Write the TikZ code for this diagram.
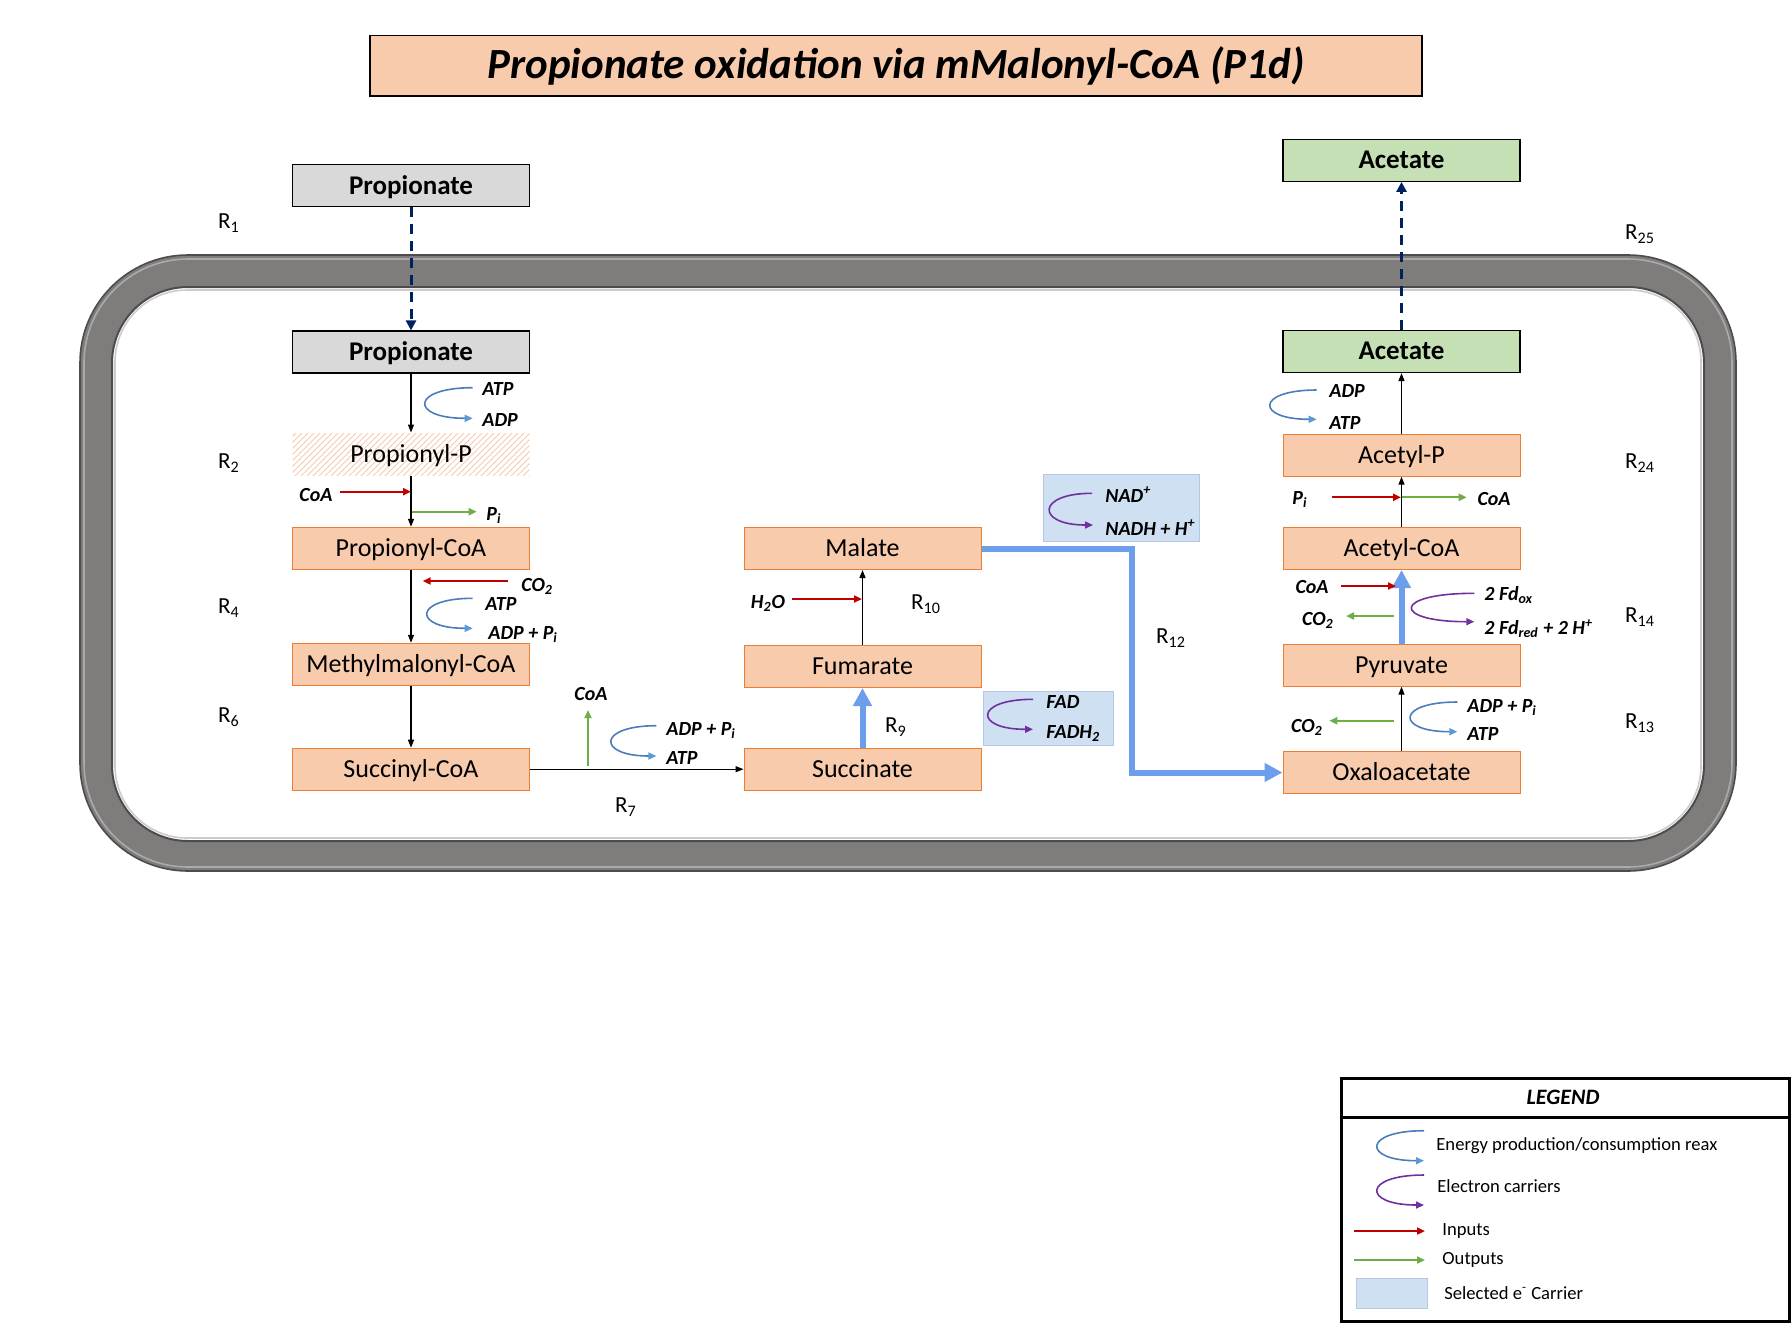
\documentclass[tikz,border=0pt]{standalone}
\usepackage{fontspec}
\setmainfont{Carlito}
\usetikzlibrary{arrows.meta,patterns}
\definecolor{peach}{HTML}{F8CBAD}
\definecolor{peachline}{HTML}{ED7D31}
\definecolor{greybox}{HTML}{D9D9D9}
\definecolor{greenbox}{HTML}{C5E0B4}
\definecolor{carrier}{HTML}{CFE0F2}
\definecolor{carrierline}{HTML}{B4C7E7}
\definecolor{thickblue}{HTML}{6D9EEB}
\definecolor{inred}{HTML}{C00000}
\definecolor{outgreen}{HTML}{70AD47}
\definecolor{energy}{HTML}{4A7EBB}
\definecolor{energytip}{HTML}{5B9BD5}
\definecolor{eviolet}{HTML}{7030A0}
\definecolor{navy}{HTML}{002060}
\definecolor{memgray}{HTML}{7F7C7C}
\definecolor{memdark}{HTML}{4D4B4B}
\definecolor{memlight}{HTML}{ABA9A9}
\tikzset{
  metab/.style={rectangle, fill=peach, draw=peachline, line width=0.5pt, minimum width=118.5pt, minimum height=21pt, inner sep=0pt, text height=10pt, text depth=1.6pt, font=\fontsize{13}{15}\selectfont},
  greymetab/.style={metab, fill=greybox, draw=black, line width=0.6pt, font=\fontsize{13.5}{16}\selectfont\bfseries},
  greenmetab/.style={greymetab, fill=greenbox},
  hatchmetab/.style={metab, draw=none, pattern=north east lines, pattern color=peachline!40},
  chem/.style={font=\fontsize{10}{12}\selectfont\bfseries\itshape, inner sep=0.5pt, yshift=-0.75pt},
  rlab/.style={font=\fontsize{11.5}{13}\selectfont, inner sep=0pt},
  legtext/.style={font=\fontsize{9.3}{11}\selectfont, inner sep=0pt, anchor=west},
  conv/.style={draw=black, line width=0.6pt, -{Triangle[length=4pt,width=3pt]}},
  inarrow/.style={draw=inred, line width=1pt, -{Triangle[length=4pt,width=3.5pt]}},
  outarrow/.style={draw=outgreen, line width=1pt, -{Triangle[length=4pt,width=3.5pt]}},
  thickarrow/.style={draw=thickblue, line width=3pt, -{Triangle[length=9pt,width=9pt]}},
  dasharrow/.style={draw=navy, line width=1.5pt, dash pattern=on 5pt off 3.5pt, -{Triangle[length=5pt,width=5pt]}},
  ecurve/.style={draw=energy, line width=0.8pt, -{Triangle[length=4pt,width=3.5pt,fill=energytip,color=energytip]}},
  vcurve/.style={draw=eviolet, line width=0.8pt, -{Triangle[length=4pt,width=3.5pt]}},
  carrierbox/.style={rectangle, fill=carrier, draw=carrierline, line width=0.5pt, inner sep=0pt}
}
\begin{document}
\begin{tikzpicture}[x=0.5pt,y=-0.5pt]
\useasboundingbox (0,0) rectangle (1792,1323);
\fill[white] (0,0) rectangle (1792,1323);
% membrane
\fill[memgray, rounded corners=54pt] (80,255) rectangle (1736,871);
\draw[memdark, line width=0.8pt, rounded corners=54pt] (80,255) rectangle (1736,871);
\draw[memlight, line width=0.8pt, rounded corners=52pt] (84,259) rectangle (1732,867);
\fill[white, rounded corners=38pt] (112,287) rectangle (1704,841);
\draw[memdark, line width=1pt, rounded corners=38pt] (112,287) rectangle (1704,841);
\draw[memlight!60!white, line width=0.8pt, rounded corners=36pt] (115,290) rectangle (1701,838);
% title
\node[draw=black, line width=0.75pt, fill=peach, minimum width=526pt, minimum height=30.25pt, inner sep=0pt, font=\fontsize{21.5}{25}\selectfont\bfseries\itshape] (title) at (896,65.75) {Propionate oxidation via mMalonyl-CoA (P1d)};
% left column
\node[greymetab] (propOut) at (411,185.7) {Propionate};
\node[greymetab] (propIn) at (411,352) {Propionate};
\node[hatchmetab] (propP) at (411,454) {Propionyl-P};
\node[metab] (propCoA) at (411,548.3) {Propionyl-CoA};
\node[metab] (mmCoA) at (411,664.3) {Methylmalonyl-CoA};
\node[metab] (sucCoA) at (411,769.2) {Succinyl-CoA};
% middle column
\node[metab] (malate) at (862.5,548.5) {Malate};
\node[metab] (fumarate) at (862.5,666.5) {Fumarate};
\node[metab] (succinate) at (862.5,769.2) {Succinate};
% right column
\node[greenmetab] (acOut) at (1401.5,160.3) {Acetate};
\node[greenmetab] (acIn) at (1401.5,351.5) {Acetate};
\node[metab] (acP) at (1401.5,455.2) {Acetyl-P};
\node[metab] (acCoA) at (1401.5,548.5) {Acetyl-CoA};
\node[metab] (pyr) at (1401.5,665.2) {Pyruvate};
\node[metab] (oaa) at (1401.5,772.5) {Oxaloacetate};
% carrier boxes
\node[carrierbox, minimum width=78pt, minimum height=33.7pt] (nadbox) at (1121.3,508) {};
\node[carrierbox, minimum width=65.2pt, minimum height=27.35pt] (fadbox) at (1048.4,718.4) {};
% R labels
\node[rlab] (r1) at (229,223) {R\textsubscript{1}};
\node[rlab] (r2) at (229,463) {R\textsubscript{2}};
\node[rlab] (r4) at (229,608) {R\textsubscript{4}};
\node[rlab] (r6) at (229,717) {R\textsubscript{6}};
\node[rlab] (r7) at (626,807) {R\textsubscript{7}};
\node[rlab] (r9) at (896,727) {R\textsubscript{9}};
\node[rlab] (r10) at (926,604) {R\textsubscript{10}};
\node[rlab] (r12) at (1171,638) {R\textsubscript{12}};
\node[rlab] (r13) at (1640,723) {R\textsubscript{13}};
\node[rlab] (r14) at (1640,617) {R\textsubscript{14}};
\node[rlab] (r24) at (1640,463) {R\textsubscript{24}};
\node[rlab] (r25) at (1640,234) {R\textsubscript{25}};
% main connectors
\draw[dasharrow] (propOut) -- (propIn);
\draw[dasharrow] (acIn) -- (acOut);
\draw[conv] (propIn) -- (propP);
\draw[conv] (propP) -- (propCoA);
\draw[conv] (propCoA) -- (mmCoA);
\draw[conv] (mmCoA) -- (sucCoA);
\draw[conv] (sucCoA) -- (succinate);
\draw[conv] (fumarate) -- (malate);
\draw[conv] (oaa) -- (pyr);
\draw[conv] (acCoA) -- (acP);
\draw[conv] (acP) -- (acIn);
\draw[thickarrow] (succinate) -- (fumarate);
\draw[thickarrow] (pyr) -- (acCoA);
\coordinate (elb) at (1132,660);
\draw[thickarrow] (malate.east) -| (elb) |- (oaa.west);
% chemical labels
\node[chem, anchor=west] (atp1) at (481,388) {ATP};
\node[chem, anchor=west] (adp1) at (481,419) {ADP};
\node[chem] (coa2) at (316,494) {CoA};
\node[chem, anchor=west] (pi2) at (485,514) {P\textsubscript{i}};
\node[chem, anchor=west] (co24) at (520,585) {CO\textsubscript{2}};
\node[chem, anchor=west] (atp4) at (484,603) {ATP};
\node[chem, anchor=west] (adp4) at (487,633) {ADP + P\textsubscript{i}};
\node[chem] (coa7) at (591,693) {CoA};
\node[chem, anchor=west] (adp7) at (665,729) {ADP + P\textsubscript{i}};
\node[chem, anchor=west] (atp7) at (665,757) {ATP};
\node[chem] (h2o) at (768,602) {H\textsubscript{2}O};
\node[chem, anchor=west] (fad) at (1045,701) {FAD};
\node[chem, anchor=west] (fadh) at (1045,732) {FADH\textsubscript{2}};
\node[chem, anchor=west] (nad) at (1104,493) {NAD\textsuperscript{+}};
\node[chem, anchor=west] (nadh) at (1104,526) {NADH + H\textsuperscript{+}};
\node[chem, anchor=west] (adp24) at (1328,390) {ADP};
\node[chem, anchor=west] (atp24) at (1328,422) {ATP};
\node[chem] (pi24) at (1300,498) {P\textsubscript{i}};
\node[chem] (coa24) at (1494,498) {CoA};
\node[chem] (coa14) at (1312,586) {CoA};
\node[chem] (co214) at (1318,619) {CO\textsubscript{2}};
\node[chem, anchor=west] (fdox) at (1483,594) {2 Fd\textsubscript{ox}};
\node[chem, anchor=west] (fdred) at (1483,627) {2 Fd\textsubscript{red} + 2 H\textsuperscript{+}};
\node[chem] (co213) at (1307,726) {CO\textsubscript{2}};
\node[chem, anchor=west] (adp13) at (1466,706) {ADP + P\textsubscript{i}};
\node[chem, anchor=west] (atp13) at (1466,733) {ATP};
% inputs / outputs
\draw[inarrow] (340,491.7) -- (411,491.7);
\draw[outarrow] (412,511.7) -- (476.7,511.7);
\draw[inarrow] (507.7,581) -- (422.7,581);
\draw[outarrow] (588,766) -- (588,710);
\draw[inarrow] (792,599) -- (862,599);
\draw[inarrow] (1331.7,497.3) -- (1401,497.3);
\draw[outarrow] (1402,497.3) -- (1466.7,497.3);
\draw[inarrow] (1341,586) -- (1396,586);
\draw[outarrow] (1394,616) -- (1346,616);
\draw[outarrow] (1394,720.7) -- (1329.3,720.7);
% energy / electron carrier curves
\draw[ecurve] (472.7,387.7) .. controls (410,387.7) and (410,418.3) .. (472.7,418.3);
\draw[ecurve] (472.7,598.3) .. controls (412.7,598.3) and (412.7,628.3) .. (472.7,628.3);
\draw[ecurve] (656.4,725.7) .. controls (596.9,725.7) and (596.9,756) .. (656.4,756);
\draw[vcurve] (1033,699.3) .. controls (973.8,699.3) and (973.8,729.3) .. (1033,729.3);
\draw[vcurve] (1092,493.3) .. controls (1036,493.3) and (1036,525) .. (1093,525);
\draw[ecurve] (1316.7,390) .. controls (1255.4,390) and (1255.4,419.3) .. (1316.7,419.3);
\draw[vcurve] (1474.3,593.3) .. controls (1391.6,593.3) and (1391.6,621.7) .. (1474.3,621.7);
\draw[ecurve] (1457.3,702) .. controls (1395.6,702) and (1395.6,731.7) .. (1457.3,731.7);
% legend
\node[draw=black, line width=1.5pt, minimum width=224pt, minimum height=121.5pt, inner sep=0pt] (legend) at (1565,1199.5) {};
\draw[line width=1.5pt] (legend.west |- 0,1117) -- (legend.east |- 0,1117);
\node[font=\fontsize{11}{13}\selectfont\bfseries\itshape] (legtitle) at (1563,1097) {LEGEND};
\draw[ecurve] (1424,1130.7) .. controls (1362.3,1130.7) and (1362.3,1160.7) .. (1424,1160.7);
\node[legtext] (leg1) at (1436,1146) {Energy production/consumption reax};
\draw[vcurve] (1424,1175) .. controls (1362.3,1175) and (1362.3,1205) .. (1424,1205);
\node[legtext] (leg2) at (1437,1186) {Electron carriers};
\draw[inarrow] (1354,1231) -- (1425,1231);
\node[legtext] (leg3) at (1442,1231) {Inputs};
\draw[outarrow] (1354,1260) -- (1425,1260);
\node[legtext] (leg4) at (1442,1260) {Outputs};
\node[carrierbox, minimum width=35.6pt, minimum height=15pt] (legbox) at (1391.7,1293.3) {};
\node[legtext] (leg5) at (1444,1293) {Selected e\textsuperscript{-} Carrier};
\end{tikzpicture}
\end{document}
